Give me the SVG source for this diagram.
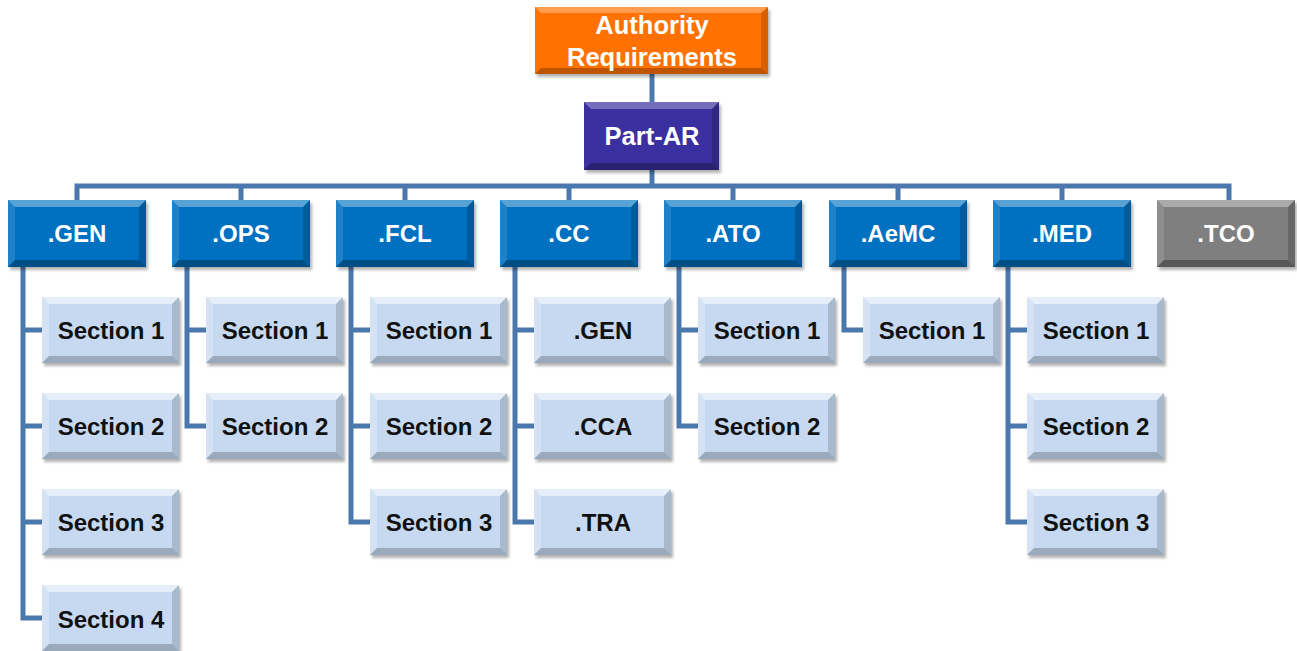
<svg xmlns="http://www.w3.org/2000/svg" xmlns:xlink="http://www.w3.org/1999/xlink" width="1297" height="651" viewBox="0 0 1297 651">
  <style>
    .lbl { font-family: "Liberation Sans", Arial, sans-serif; font-weight: bold; text-anchor: middle; }
    .w { fill: #ffffff; font-size: 24px; }
    .big { font-size: 25.5px; }
    .k { fill: #111111; font-size: 24px; }
    .conn { fill: none; stroke: #4a78ad; stroke-width: 5; stroke-linejoin: miter; }
  </style>
  <defs>
    <filter id="sh" x="-10%" y="-10%" width="130%" height="140%">
      <feGaussianBlur stdDeviation="1.5"/>
    </filter>
    <!-- bevelled 138x67 box, fill taken from currentColor -->
    <g id="bevelL">
      <rect x="2" y="3" width="138" height="67" fill="#000" opacity="0.3" filter="url(#sh)"/>
      <rect width="138" height="67" fill="currentColor"/>
      <polygon points="0,0 138,0 131,7 7,7" fill="#fff" opacity="0.35"/>
      <polygon points="0,0 7,7 7,60 0,67" fill="#fff" opacity="0.12"/>
      <polygon points="138,0 138,67 131,60 131,7" fill="#000" opacity="0.18"/>
      <polygon points="0,67 138,67 131,60 7,60" fill="#000" opacity="0.3"/>
    </g>
    <!-- bevelled 137x66 light-blue child box -->
    <g id="bevelS">
      <rect x="2" y="3" width="137" height="66" fill="#000" opacity="0.3" filter="url(#sh)"/>
      <rect width="137" height="66" fill="#c6d9f1"/>
      <polygon points="0,0 137,0 130,7 7,7" fill="#fff" opacity="0.55"/>
      <polygon points="0,0 7,7 7,59 0,66" fill="#fff" opacity="0.25"/>
      <polygon points="137,0 137,66 130,59 130,7" fill="#000" opacity="0.15"/>
      <polygon points="0,66 137,66 130,59 7,59" fill="#000" opacity="0.22"/>
    </g>
  </defs>

  <rect width="1297" height="651" fill="#ffffff"/>

  <!-- connectors -->
  <g id="connectors" class="conn">
    <path d="M652 74 V102"/>
    <path d="M652 170 V186"/>
    <path d="M77 200 V186 H1229 V200"/>
    <path d="M241 186 V200 M405 186 V200 M569 186 V200 M733 186 V200 M898 186 V200 M1062 186 V200"/>
    <!-- .GEN children -->
    <path d="M23 267 V618 H42 M23 330 H42 M23 426 H42 M23 522 H42"/>
    <!-- .OPS children -->
    <path d="M187 267 V426 H206 M187 330 H206"/>
    <!-- .FCL children -->
    <path d="M351 267 V522 H370 M351 330 H370 M351 426 H370"/>
    <!-- .CC children -->
    <path d="M515 267 V522 H534 M515 330 H534 M515 426 H534"/>
    <!-- .ATO children -->
    <path d="M679 267 V426 H698 M679 330 H698"/>
    <!-- .AeMC child -->
    <path d="M844 267 V330 H863"/>
    <!-- .MED children -->
    <path d="M1008 267 V522 H1027 M1008 330 H1027 M1008 426 H1027"/>
  </g>

  <!-- root -->
  <g id="authority">
    <rect x="537" y="10" width="233" height="67" fill="#000" opacity="0.3" filter="url(#sh)"/>
    <rect x="535" y="7" width="233" height="67" fill="#ff7100"/>
    <polygon points="535,7 768,7 761,13 541,13" fill="#fff" opacity="0.3"/>
    <polygon points="768,7 768,74 761,68 761,13" fill="#000" opacity="0.15"/>
    <polygon points="535,74 768,74 761,68 541,68" fill="#000" opacity="0.25"/>
    <text class="lbl w big" x="652" y="34">Authority</text>
    <text class="lbl w big" x="652" y="66">Requirements</text>
  </g>

  <g id="part-ar">
    <rect x="586" y="105" width="135" height="68" fill="#000" opacity="0.3" filter="url(#sh)"/>
    <rect x="584" y="102" width="135" height="68" fill="#3a30a0"/>
    <polygon points="584,102 719,102 712,109 591,109" fill="#fff" opacity="0.3"/>
    <polygon points="719,102 719,170 712,163 712,109" fill="#000" opacity="0.18"/>
    <polygon points="584,170 719,170 712,163 591,163" fill="#000" opacity="0.3"/>
    <text class="lbl w big" x="652" y="145">Part-AR</text>
  </g>

  <!-- first level -->
  <g id="gen" color="#0070c0"><use href="#bevelL" x="8" y="200"/><text class="lbl w" x="77" y="242">.GEN</text></g>
  <g id="ops" color="#0070c0"><use href="#bevelL" x="172" y="200"/><text class="lbl w" x="241" y="242">.OPS</text></g>
  <g id="fcl" color="#0070c0"><use href="#bevelL" x="336" y="200"/><text class="lbl w" x="405" y="242">.FCL</text></g>
  <g id="cc" color="#0070c0"><use href="#bevelL" x="500" y="200"/><text class="lbl w" x="569" y="242">.CC</text></g>
  <g id="ato" color="#0070c0"><use href="#bevelL" x="664" y="200"/><text class="lbl w" x="733" y="242">.ATO</text></g>
  <g id="aemc" color="#0070c0"><use href="#bevelL" x="829" y="200"/><text class="lbl w" x="898" y="242">.AeMC</text></g>
  <g id="med" color="#0070c0"><use href="#bevelL" x="993" y="200"/><text class="lbl w" x="1062" y="242">.MED</text></g>
  <g id="tco" color="#7f7f7f"><use href="#bevelL" x="1157" y="200"/><text class="lbl w" x="1226" y="242">.TCO</text></g>

  <!-- .GEN sections -->
  <g id="gen-s1"><use href="#bevelS" x="42" y="297"/><text class="lbl k" x="111" y="339">Section 1</text></g>
  <g id="gen-s2"><use href="#bevelS" x="42" y="393"/><text class="lbl k" x="111" y="435">Section 2</text></g>
  <g id="gen-s3"><use href="#bevelS" x="42" y="489"/><text class="lbl k" x="111" y="531">Section 3</text></g>
  <g id="gen-s4"><use href="#bevelS" x="42" y="585"/><text class="lbl k" x="111" y="628">Section 4</text></g>

  <!-- .OPS sections -->
  <g id="ops-s1"><use href="#bevelS" x="206" y="297"/><text class="lbl k" x="275" y="339">Section 1</text></g>
  <g id="ops-s2"><use href="#bevelS" x="206" y="393"/><text class="lbl k" x="275" y="435">Section 2</text></g>

  <!-- .FCL sections -->
  <g id="fcl-s1"><use href="#bevelS" x="370" y="297"/><text class="lbl k" x="439" y="339">Section 1</text></g>
  <g id="fcl-s2"><use href="#bevelS" x="370" y="393"/><text class="lbl k" x="439" y="435">Section 2</text></g>
  <g id="fcl-s3"><use href="#bevelS" x="370" y="489"/><text class="lbl k" x="439" y="531">Section 3</text></g>

  <!-- .CC subparts -->
  <g id="cc-gen"><use href="#bevelS" x="534" y="297"/><text class="lbl k" x="603" y="339">.GEN</text></g>
  <g id="cc-cca"><use href="#bevelS" x="534" y="393"/><text class="lbl k" x="603" y="435">.CCA</text></g>
  <g id="cc-tra"><use href="#bevelS" x="534" y="489"/><text class="lbl k" x="603" y="531">.TRA</text></g>

  <!-- .ATO sections -->
  <g id="ato-s1"><use href="#bevelS" x="698" y="297"/><text class="lbl k" x="767" y="339">Section 1</text></g>
  <g id="ato-s2"><use href="#bevelS" x="698" y="393"/><text class="lbl k" x="767" y="435">Section 2</text></g>

  <!-- .AeMC section -->
  <g id="aemc-s1"><use href="#bevelS" x="863" y="297"/><text class="lbl k" x="932" y="339">Section 1</text></g>

  <!-- .MED sections -->
  <g id="med-s1"><use href="#bevelS" x="1027" y="297"/><text class="lbl k" x="1096" y="339">Section 1</text></g>
  <g id="med-s2"><use href="#bevelS" x="1027" y="393"/><text class="lbl k" x="1096" y="435">Section 2</text></g>
  <g id="med-s3"><use href="#bevelS" x="1027" y="489"/><text class="lbl k" x="1096" y="531">Section 3</text></g>
</svg>
